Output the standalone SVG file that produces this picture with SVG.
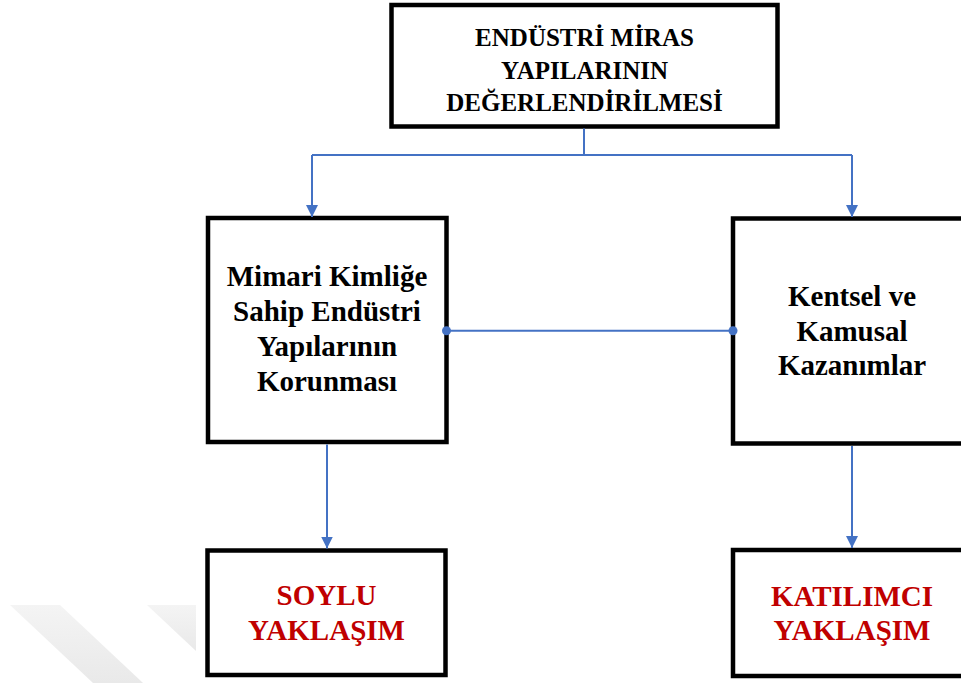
<svg xmlns="http://www.w3.org/2000/svg" width="961" height="683" viewBox="0 0 961 683">
  <defs>
    <style>
      .box { fill: #ffffff; stroke: #000000; stroke-width: 4.5; }
      .link { fill: none; stroke: #4472C4; stroke-width: 2; }
      .dot { fill: #4472C4; }
      .title { font-family: "Liberation Serif", "Times New Roman", serif; font-weight: bold; fill: #000000; text-anchor: middle; }
      .accent { font-family: "Liberation Serif", "Times New Roman", serif; font-weight: bold; fill: #C00000; text-anchor: middle; font-size: 29px; }
      .mark { fill: url(#markFade); }
    </style>
    <linearGradient id="markFade" x1="0" y1="0" x2="0" y2="1">
      <stop offset="0" stop-color="#f4f4f4"/>
      <stop offset="1" stop-color="#e9e9e9"/>
    </linearGradient>
    <marker id="arrow" viewBox="0 0 12 12" refX="12" refY="6" markerWidth="12" markerHeight="12" markerUnits="userSpaceOnUse" orient="auto">
      <path d="M0,0 L12,6 L0,12 z" fill="#4472C4"/>
    </marker>
  </defs>

  <rect width="961" height="683" fill="#ffffff"/>

  <!-- faint background stripes -->
  <g id="backdrop">
    <polygon class="mark" points="10,605 60,605 143,683 93,683"/>
    <polygon class="mark" points="147,605 196,605 196,651"/>
  </g>

  <g id="node-root">
    <rect class="box" x="391.5" y="5" width="386" height="121.5"/>
    <text class="title" font-size="25" x="584.5" y="46">ENDÜSTRİ MİRAS</text>
    <text class="title" font-size="25" x="584.5" y="78.5">YAPILARININ</text>
    <text class="title" font-size="25" x="584.5" y="111">DEĞERLENDİRİLMESİ</text>
  </g>

  <g id="node-conservation">
    <rect class="box" x="208" y="218" width="238.5" height="224"/>
    <text class="title" font-size="29" x="327" y="286">Mimari Kimliğe</text>
    <text class="title" font-size="29" x="327" y="321">Sahip Endüstri</text>
    <text class="title" font-size="29" x="327" y="356">Yapılarının</text>
    <text class="title" font-size="29" x="327" y="391">Korunması</text>
  </g>

  <g id="node-urban">
    <rect class="box" x="733" y="218.5" width="238" height="225"/>
    <text class="title" font-size="29" x="852" y="306">Kentsel ve</text>
    <text class="title" font-size="29" x="852" y="340.5">Kamusal</text>
    <text class="title" font-size="29" x="852" y="375">Kazanımlar</text>
  </g>

  <g id="node-noble">
    <rect class="box" x="207.5" y="550.5" width="238" height="124.5"/>
    <text class="accent" x="326.5" y="605">SOYLU</text>
    <text class="accent" x="326.5" y="640">YAKLAŞIM</text>
  </g>

  <g id="node-participatory">
    <rect class="box" x="733" y="550" width="238" height="126"/>
    <text class="accent" x="852" y="605.5">KATILIMCI</text>
    <text class="accent" x="852" y="640">YAKLAŞIM</text>
  </g>

  <!-- connectors, drawn over the box outlines -->
  <g id="connectors">
    <path class="link" d="M584,128.5 V155"/>
    <path class="link" d="M312,155 H852"/>
    <path class="link" d="M312,155 V217" marker-end="url(#arrow)"/>
    <path class="link" d="M852,155 V217" marker-end="url(#arrow)"/>
    <path class="link" d="M446.5,330.7 H733"/>
    <circle class="dot" cx="446.5" cy="330.7" r="4.5"/>
    <circle class="dot" cx="733" cy="330.7" r="4.5"/>
    <path class="link" d="M327,444.5 V548.5" marker-end="url(#arrow)"/>
    <path class="link" d="M852,446 V548" marker-end="url(#arrow)"/>
  </g>
</svg>
